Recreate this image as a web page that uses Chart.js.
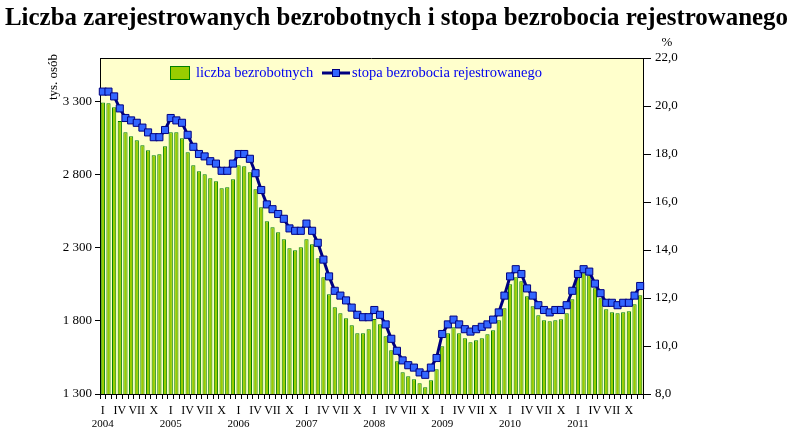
<!DOCTYPE html>
<html>
<head>
<meta charset="utf-8">
<script src="https://cdn.jsdelivr.net/npm/chart.js@4/dist/chart.umd.min.js"></script>
<style>
  body { margin: 0; background: #fff; }
</style>
</head>
<body>
<canvas id="myChart" width="793" height="438"></canvas>
<script>
var years = ['2004', '2005', '2006', '2007', '2008', '2009', '2010', '2011'];
var months = ['I', 'II', 'III', 'IV', 'V', 'VI', 'VII', 'VIII', 'IX', 'X', 'XI', 'XII'];
var leftTicks = [1300, 1800, 2300, 2800, 3300];
var rightTicks = [8, 10, 12, 14, 16, 18, 20, 22];

// liczba bezrobotnych, tys. osob (I 2004 - XII 2011)
var bezrobotni = [
  3295, 3291, 3263, 3168, 3092, 3065, 3037, 3003, 2969, 2935, 2942, 2996,
  3092, 3092, 3051, 2955, 2866, 2825, 2805, 2777, 2757, 2709, 2716, 2770,
  2866, 2859, 2818, 2702, 2579, 2483, 2442, 2407, 2359, 2298, 2284, 2305,
  2359, 2325, 2229, 2099, 1983, 1894, 1853, 1818, 1770, 1716, 1716, 1743,
  1814, 1777, 1695, 1599, 1524, 1449, 1421, 1401, 1373, 1346, 1394, 1469,
  1627, 1716, 1757, 1716, 1681, 1654, 1668, 1681, 1709, 1736, 1805, 1887,
  2051, 2099, 2072, 1969, 1901, 1839, 1805, 1798, 1805, 1812, 1853, 1949,
  2099, 2126, 2113, 2024, 1955, 1880, 1860, 1853, 1860, 1866, 1914, 1976
];

// stopa bezrobocia rejestrowanego, %
var stopa = [
  20.6, 20.6, 20.4, 19.9, 19.5, 19.4, 19.3, 19.1, 18.9, 18.7, 18.7, 19.0,
  19.5, 19.4, 19.3, 18.8, 18.3, 18.0, 17.9, 17.7, 17.6, 17.3, 17.3, 17.6,
  18.0, 18.0, 17.8, 17.2, 16.5, 15.9, 15.7, 15.5, 15.3, 14.9, 14.8, 14.8,
  15.1, 14.8, 14.3, 13.6, 12.9, 12.3, 12.1, 11.9, 11.6, 11.3, 11.2, 11.2,
  11.5, 11.3, 10.9, 10.3, 9.8, 9.4, 9.2, 9.1, 8.9, 8.8, 9.1, 9.5,
  10.5, 10.9, 11.1, 10.9, 10.7, 10.6, 10.7, 10.8, 10.9, 11.1, 11.4, 12.1,
  12.9, 13.2, 13.0, 12.4, 12.1, 11.7, 11.5, 11.4, 11.5, 11.5, 11.7, 12.3,
  13.0, 13.2, 13.1, 12.6, 12.2, 11.8, 11.8, 11.7, 11.8, 11.8, 12.1, 12.5
];

var labels = [];
years.forEach(function (y) {
  months.forEach(function (m) { labels.push(m + ' ' + y); });
});

var serif = '"Liberation Serif", "Times New Roman", serif';
Chart.defaults.font.family = serif;
Chart.defaults.color = '#000';

var barFill = '#99CC00';
var barEdge = '#008000';
var lineColor = '#000080';
var markerFill = '#3366FF';

// yellow plot background, top border, title and extra labels
var decor = {
  id: 'decor',
  beforeDraw: function (chart) {
    var a = chart.chartArea, ctx = chart.ctx;
    ctx.save();
    ctx.fillStyle = '#FFFFCC';
    ctx.fillRect(a.left, a.top, a.right - a.left, a.bottom - a.top);
    ctx.restore();
  },
  afterDraw: function (chart) {
    var a = chart.chartArea, ctx = chart.ctx;
    ctx.save();
    ctx.strokeStyle = '#000';
    ctx.lineWidth = 1;
    ctx.beginPath();
    ctx.moveTo(a.left, a.top + 0.5);
    ctx.lineTo(a.right, a.top + 0.5);
    ctx.stroke();

    ctx.fillStyle = '#000';
    ctx.textAlign = 'center';
    ctx.textBaseline = 'alphabetic';
    ctx.font = 'bold 26px ' + serif;
    ctx.fillText('Liczba zarejestrowanych bezrobotnych i stopa bezrobocia rejestrowanego', 396.5, 25, 783);

    ctx.font = '13px ' + serif;
    ctx.textBaseline = 'middle';
    ctx.fillText('%', 667, 43);

    ctx.translate(54, 77);
    ctx.rotate(-Math.PI / 2);
    ctx.fillText('tys. osób', 0, 0);
    ctx.restore();

    // legend inside the plot
    var ds = chart.data.datasets;
    ctx.save();
    ctx.font = '14.5px ' + serif;
    ctx.textBaseline = 'middle';
    ctx.textAlign = 'left';
    var ly = a.top + 15;
    ctx.fillStyle = barFill;
    ctx.strokeStyle = barEdge;
    ctx.lineWidth = 1;
    ctx.fillRect(170, ly - 7, 20, 14);
    ctx.strokeRect(170.5, ly - 6.5, 19, 13);
    ctx.fillStyle = '#0000EE';
    ctx.fillText(ds[0].label, 196, ly);

    ctx.strokeStyle = lineColor;
    ctx.lineWidth = 3;
    ctx.beginPath();
    ctx.moveTo(322, ly);
    ctx.lineTo(350, ly);
    ctx.stroke();
    ctx.fillStyle = markerFill;
    ctx.lineWidth = 1;
    ctx.fillRect(332, ly - 4, 8, 8);
    ctx.strokeRect(332.5, ly - 3.5, 7, 7);
    ctx.fillStyle = '#0000EE';
    ctx.fillText(ds[1].label, 352, ly);
    ctx.restore();
  }
};

var ctx = document.getElementById('myChart').getContext('2d');
var myChart = new Chart(ctx, {
  type: 'bar',
  data: {
    labels: labels,
    datasets: [{
      type: 'bar',
      label: 'liczba bezrobotnych',
      data: bezrobotni,
      backgroundColor: barFill,
      borderColor: barEdge,
      borderWidth: 1,
      barPercentage: 0.75,
      categoryPercentage: 1,
      xAxisID: 'x',
      yAxisID: 'y',
      order: 2
    }, {
      type: 'line',
      label: 'stopa bezrobocia rejestrowanego',
      data: stopa,
      borderColor: lineColor,
      borderWidth: 3,
      tension: 0,
      pointStyle: 'rect',
      pointRadius: 5,
      pointBackgroundColor: markerFill,
      pointBorderColor: lineColor,
      pointBorderWidth: 1,
      xAxisID: 'x',
      yAxisID: 'y2',
      order: 1
    }]
  },
  options: {
    responsive: false,
    animation: false,
    layout: { padding: { top: 58, left: 0, right: 0, bottom: 0 } },
    plugins: {
      legend: { display: false },
      title: { display: false },
      tooltip: { enabled: false }
    },
    scales: {
      x: {
        position: 'bottom',
        offset: true,
        grid: { drawOnChartArea: false, offset: true, color: '#000', tickLength: 5 },
        border: { color: '#000' },
        ticks: {
          autoSkip: false,
          maxRotation: 0,
          padding: 5,
          font: { size: 12 },
          callback: function (value, index) {
            return index % 3 === 0 ? months[index % 12] : '';
          }
        },
        afterFit: function (scale) { scale.height = 20; }
      },
      x2: {
        position: 'bottom',
        weight: 1,
        offset: true,
        grid: { display: false, drawTicks: false },
        border: { display: false },
        ticks: {
          autoSkip: false,
          maxRotation: 0,
          padding: 4,
          font: { size: 11 },
          callback: function (value, index) {
            return index % 12 === 0 ? years[index / 12] : '';
          }
        },
        afterFit: function (scale) { scale.height = 24; }
      },
      y: {
        position: 'left',
        min: 1300,
        max: 3600,
        grid: { drawOnChartArea: false, color: '#000', tickLength: 5 },
        border: { color: '#000' },
        afterBuildTicks: function (scale) {
          scale.ticks = leftTicks.map(function (v) { return { value: v }; });
        },
        ticks: {
          padding: 3,
          font: { size: 13 },
          callback: function (v) {
            return String(v).replace(/\B(?=(\d{3})+(?!\d))/g, ' ');
          }
        },
        afterFit: function (scale) { scale.width = 100; }
      },
      y2: {
        position: 'right',
        min: 8,
        max: 22,
        grid: { drawOnChartArea: false, color: '#000', tickLength: 8 },
        border: { color: '#000' },
        afterBuildTicks: function (scale) {
          scale.ticks = rightTicks.map(function (v) { return { value: v }; });
        },
        ticks: {
          padding: 4,
          font: { size: 13 },
          callback: function (v) {
            return v.toFixed(1).replace('.', ',');
          }
        },
        afterFit: function (scale) { scale.width = 150; }
      }
    }
  },
  plugins: [decor]
});
</script>
</body>
</html>
